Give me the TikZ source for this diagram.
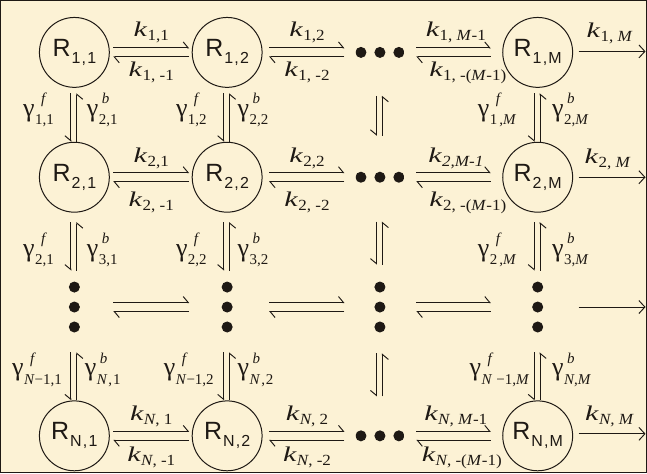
\documentclass[tikz,border=0pt]{standalone}
\usepackage{graphicx}
\usepackage{fontspec}
\setmainfont{Liberation Serif}
\newfontfamily\rfont{Liberation Sans}
\usetikzlibrary{arrows.meta,calc}
\definecolor{bg}{RGB}{252,242,213}
\definecolor{ink}{RGB}{30,25,20}

\newcommand\kl[1]{\scalebox{1.1}[1]{\fontsize{21}{21}\selectfont\itshape\scalebox{1.3}[1]{k}\upshape\kern0.5pt\raisebox{-4pt}{\fontsize{15.5}{15.5}\selectfont #1}}}
\newcommand\gl[3]{\fontsize{26}{26}\selectfont γ\kern0.5pt\makebox[0pt][l]{\kern#3\raisebox{12.5pt}{\fontsize{15}{15}\selectfont\itshape #1}}\raisebox{-8.5pt}{\fontsize{15}{15}\selectfont #2}}
\newcommand\rl[1]{\rfont\fontsize{25}{25}\selectfont R\kern1pt\raisebox{-7pt}{\fontsize{16}{16}\selectfont #1}}
\newcommand\sep{\kern1.2pt,\kern1.2pt}

\tikzset{
  x=1pt, y=-1pt,
  every path/.style={draw=ink, line width=0.95pt},
  rnode/.style={draw=ink, circle, line width=1pt, minimum size=70pt, inner sep=0pt, text=ink},
  hdots/.style={rectangle, draw=none, minimum width=48pt, minimum height=70pt, inner sep=0pt,
    path picture={\foreach \dx in {-19,0,19}{\fill[ink] ([xshift=\dx pt]path picture bounding box.center) circle (5pt);}}},
  vdots/.style={rectangle, draw=none, minimum width=#1, minimum height=56pt, inner sep=0pt,
    path picture={\foreach \dy in {-20,0,20}{\fill[ink] ([yshift=\dy pt]path picture bounding box.center) circle (5pt);}}},
  lab/.style={anchor=base, inner sep=0pt, text=ink},
  labl/.style={anchor=base east, inner sep=0pt, text=ink},
  labr/.style={anchor=base west, inner sep=0pt, text=ink},
  harp/.style={-{Straight Barb[harpoon,length=5pt,width=12pt]}},
  harpv/.style={-{Straight Barb[harpoon,swap,length=5pt,width=12pt]}},
  exitarr/.style={-{Straight Barb[length=6pt,width=13pt]}},
}

\newcommand\hharp[4]{%
  \draw[harp, shorten <=#3, shorten >=#4] ([yshift=4.5pt]#1.east) -- ([yshift=4.5pt]#2.west);
  \draw[harp, shorten <=#4, shorten >=#3] ([yshift=-4.5pt]#2.west) -- ([yshift=-4.5pt]#1.east);}
\newcommand\vharp[4]{%
  \draw[harpv, shorten <=#3, shorten >=#4] ([xshift=-3.5pt]#1.south) -- ([xshift=-3.5pt]#2.north);
  \draw[harpv, shorten <=#4, shorten >=#3] ([xshift=2.5pt]#2.north) -- ([xshift=2.5pt]#1.south);}

\begin{document}
\begin{tikzpicture}
\fill[bg, draw=none] (0,0) rectangle (647,473);
\useasboundingbox (0,0) rectangle (647,473);

% grid nodes
\node[rnode] (R11) at (74,52) {\rl{1\sep1}};
\node[rnode] (R12) at (227,52) {\rl{1\sep2}};
\node[hdots] (D13) at (380,52) {};
\node[rnode] (R1M) at (538,52) {\rl{1\sep M}};

\node[rnode] (R21) at (74,177) {\rl{2\sep1}};
\node[rnode] (R22) at (227,177) {\rl{2\sep2}};
\node[hdots] (D23) at (380,177) {};
\node[rnode] (R2M) at (538,177) {\rl{2\sep M}};

\node[vdots=70pt] (V31) at (74,307) {};
\node[vdots=70pt] (V32) at (227,307) {};
\node[vdots=48pt] (V33) at (380,307) {};
\node[vdots=70pt] (V34) at (538,307) {};

\node[rnode] (RN1) at (74,436) {\rl{N\sep1}};
\node[rnode] (RN2) at (227,436) {\rl{N\sep2}};
\node[hdots] (DN3) at (380,436) {};
\node[rnode] (RNM) at (538,436) {\rl{N\sep M}};

\coordinate (E1) at (646,51);
\coordinate (E2) at (646,177);
\coordinate (E3) at (646,307);
\coordinate (E4) at (646,434);

% horizontal double harpoons
\foreach \a/\b/\c/\d in {R11/R12/D13/R1M, R21/R22/D23/R2M, V31/V32/V33/V34, RN1/RN2/DN3/RNM}{
  \hharp{\a}{\b}{3.5pt}{2.5pt}
  \hharp{\b}{\c}{6.5pt}{11pt}
  \hharp{\c}{\d}{12pt}{11.5pt}
}
\draw[exitarr, shorten <=5.5pt] (R1M.east |- E1) -- (E1);
\draw[exitarr, shorten <=5.5pt] (R2M.east |- E2) -- (E2);
\draw[exitarr, shorten <=5.5pt] (V34.east |- E3) -- (E3);
\draw[exitarr, shorten <=5.5pt] (RNM.east |- E4) -- (E4);

% vertical double harpoons
\foreach \a/\b in {R11/R21, R12/R22, R1M/R2M}{\vharp{\a}{\b}{5.5pt}{0pt}}
\vharp{D13}{D23}{8pt}{6pt}
\foreach \a/\b in {R21/V31, R22/V32, R2M/V34}{\vharp{\a}{\b}{9.5pt}{8pt}}
\vharp{D23}{V33}{9pt}{14pt}
\foreach \a/\b in {V31/RN1, V32/RN2, V34/RNM}{\vharp{\a}{\b}{17pt}{0pt}}
\vharp{V33}{DN3}{18pt}{4pt}

% rate labels row 1
\node[lab] (k11) at (151,36) {\kl{1,1}};
\node[lab] (k1m1) at (151,76) {\kl{1, -1}};
\node[lab] (k12) at (307,36) {\kl{1,2}};
\node[lab] (k1m2) at (307,76) {\kl{1, -2}};
\node[lab] (k1M1) at (456,36) {\kl{1, \textit{M}-1}};
\node[lab] (k1mM1) at (468,76) {\kl{1, -(\textit{M}-1)}};
\node[lab] (k1M) at (610,37) {\kl{1, \textit{M}}};
% row 2
\node[lab] (k21) at (151,162) {\kl{2,1}};
\node[lab] (k2m1) at (151,206) {\kl{2, -1}};
\node[lab] (k22) at (307,162) {\kl{2,2}};
\node[lab] (k2m2) at (307,206) {\kl{2, -2}};
\node[lab] (k2M1) at (456,162) {\kl{\itshape 2,M-1}};
\node[lab] (k2mM1) at (468,206) {\kl{2, -(\textit{M}-1)}};
\node[lab] (k2M) at (608,163) {\kl{2, \textit{M}}};
% row N
\node[lab] (kN1) at (151,421) {\kl{\textit{N}, 1}};
\node[lab] (kNm1) at (151,462) {\kl{\textit{N}, -1}};
\node[lab] (kN2) at (307,421) {\kl{\textit{N}, 2}};
\node[lab] (kNm2) at (307,462) {\kl{\textit{N}, -2}};
\node[lab] (kNM1) at (456,421) {\kl{\textit{N, M}-1}};
\node[lab] (kNmM1) at (462,462) {\kl{\textit{N}, -(\textit{M}-1)}};
\node[lab] (kNM) at (610,421) {\kl{\textit{N, M}}};

% transfer labels, gap A
\node[labl] (gA1) at (54,116) {\gl{f}{1,1}{6pt}};
\node[labr] (gB1) at (86,116) {\gl{b}{2,1}{3pt}};
\node[labl] (gA2) at (207,116) {\gl{f}{1,2}{6pt}};
\node[labr] (gB2) at (237,116) {\gl{b}{2,2}{3pt}};
\node[labl] (gA4) at (517,116) {\gl{f}{1\kern2pt,\textit{M}}{6pt}};
\node[labr] (gB4) at (552,116) {\gl{b}{2,\textit{M}}{3pt}};
% gap B
\node[labl] (gC1) at (54,256) {\gl{f}{2,1}{6pt}};
\node[labr] (gD1) at (86,256) {\gl{b}{3,1}{3pt}};
\node[labl] (gC2) at (207,256) {\gl{f}{2,2}{6pt}};
\node[labr] (gD2) at (237,256) {\gl{b}{3,2}{3pt}};
\node[labl] (gC4) at (517,256) {\gl{f}{2\kern2pt,\textit{M}}{6pt}};
\node[labr] (gD4) at (552,256) {\gl{b}{3,\textit{M}}{3pt}};
% gap C
\node[labl] (gE1) at (62,376) {\gl{f}{\textit{N}−1,1}{6pt}};
\node[labr] (gF1) at (84,376) {\gl{b}{\textit{N}\kern1pt,\kern1pt1}{3pt}};
\node[labl] (gE2) at (214,376) {\gl{f}{\textit{N}−1,2}{6pt}};
\node[labr] (gF2) at (237,376) {\gl{b}{\textit{N}\kern1pt,\kern1pt2}{3pt}};
\node[labl] (gE4) at (530,376) {\gl{f}{\textit{N}\kern4pt−1,\textit{M}}{6pt}};
\node[labr] (gF4) at (552,376) {\gl{b}{\textit{N},\textit{M}}{3pt}};
\end{tikzpicture}
\end{document}
